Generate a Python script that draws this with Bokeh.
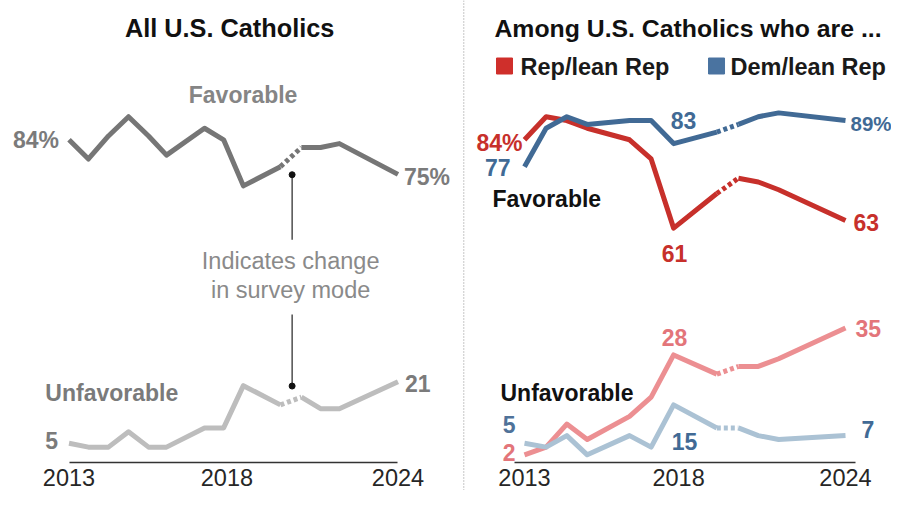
from bokeh.plotting import figure
from bokeh.layouts import row
from bokeh.models import FixedTicker, Span
from bokeh.core.properties import value
from bokeh.embed import file_html
from bokeh.resources import INLINE

# ---------------- data ----------------
LEFT_YEARS = [2013.00, 2013.65, 2014.32, 2014.99, 2015.66, 2016.26, 2017.53,
              2018.17, 2018.83, 2020.07, 2020.77, 2021.41, 2022.04, 2024.00]
ALL_FAV = [84, 79, 85, 90, 85, 80, 87, 84, 72, 77, 82, 82, 83, 75]
ALL_UNFAV = [5, 4, 4, 8, 4, 4, 9, 9, 20, 15, 17, 14, 14, 21]

RIGHT_YEARS = [2013.00, 2013.74, 2014.45, 2015.15, 2016.60, 2017.34, 2018.11,
               2019.59, 2020.33, 2021.01, 2021.71, 2024.00]
REP_FAV = [84, 90, 89, 87, 84, 79, 61, 70, 74, 73, 71, 63]
DEM_FAV = [77, 87, 90, 88, 89, 89, 83, 86, 88, 90, 91, 89]
REP_UNFAV = [2, 4, 10, 6, 12, 17, 28, 23, 25, 25, 27, 35]
DEM_UNFAV = [5, 4, 7, 2, 7, 4, 15, 9, 9, 7, 6, 7]

LEFT_MODE_CHANGE = 9    # last phone-survey index (left panel)
RIGHT_MODE_CHANGE = 7   # last phone-survey index (right panel)
MODE_CHANGE_YEAR = 2020.46

TICK_YEARS = [2013, 2018.28, 2024]
TICK_LABELS = ["2013", "2018", "2024"]

LEFT_TITLE = "All U.S. Catholics"
RIGHT_TITLE = "Among U.S. Catholics who are ..."
LEGEND_LABELS = ["Rep/lean Rep", "Dem/lean Rep"]

# ---------------- styles ----------------
FONT = value("Liberation Sans")
GRAY_DARK = "#767676"
GRAY_LIGHT = "#bdbdbd"
GRAY_TEXT = "#7b7b7b"
RED = "#c7302b"
BLUE = "#416a95"
PINK = "#ec8f92"
PINK_TEXT = "#e3757a"
LIGHTBLUE = "#abc2d4"
LW = 5
DASH = "4 3"
Y_RANGE = (-7.288, 120.25)
TEXT_FIX = 0.33   # em, baseline correction for text glyphs


def make_fig(width, xr, bounds):
    p = figure(width=width, height=490, x_range=xr, y_range=Y_RANGE,
               output_backend="svg", toolbar_location=None,
               y_axis_location=None, min_border=0)
    p.outline_line_color = None
    p.xgrid.visible = False
    p.ygrid.visible = False
    ax = p.xaxis[0]
    ax.fixed_location = 0
    ax.bounds = bounds
    ax.ticker = FixedTicker(ticks=TICK_YEARS)
    ax.major_label_overrides = {t: l for t, l in zip(TICK_YEARS, TICK_LABELS)}
    ax.major_tick_line_color = None
    ax.minor_tick_line_color = None
    ax.major_label_standoff = 1
    ax.axis_line_color = "#333333"
    ax.axis_line_width = 1.4
    ax.major_label_text_font = "Liberation Sans"
    ax.major_label_text_font_size = "23.5px"
    ax.major_label_text_color = "#262626"
    return p


def series(p, xs, ys, k, color):
    p.line(xs[:k + 1], ys[:k + 1], line_color=color, line_width=LW, line_join="round")
    p.line(xs[k:k + 2], ys[k:k + 2], line_color=color, line_width=LW, line_dash=DASH)
    p.line(xs[k + 1:], ys[k + 1:], line_color=color, line_width=LW, line_join="round")


def label(p, x, y, txt, color, align, dx, dy, size=23, style="bold"):
    p.text(x=[x], y=[y], text=[txt], text_font=FONT, text_font_size=f"{size}px",
           text_font_style=style, text_color=color, text_align=align,
           text_baseline="alphabetic", x_offset=dx, y_offset=dy - TEXT_FIX * size)


# ---------------- left panel ----------------
left = make_fig(462, (2010.7097, 2026.1566), (LEFT_YEARS[0], LEFT_YEARS[-1]))
series(left, LEFT_YEARS, ALL_UNFAV, LEFT_MODE_CHANGE, GRAY_LIGHT)
series(left, LEFT_YEARS, ALL_FAV, LEFT_MODE_CHANGE, GRAY_DARK)

# survey-mode annotation
left.segment(x0=[MODE_CHANGE_YEAR, MODE_CHANGE_YEAR], y0=[74.9, 38.5],
             x1=[MODE_CHANGE_YEAR, MODE_CHANGE_YEAR], y1=[58.0, 19.9],
             line_color="#222222", line_width=1.2)
left.scatter(x=[MODE_CHANGE_YEAR, MODE_CHANGE_YEAR], y=[74.9, 19.9], size=6,
             color="#111111")
label(left, 2020.41, 50.4, "Indicates change", "#8a8a8a", "center", 0, 0,
      size=23.5, style="normal")
label(left, 2020.41, 42.9, "in survey mode", "#8a8a8a", "center", 0, 0,
      size=23.5, style="normal")

label(left, 2018.37, 110.9, LEFT_TITLE, "#111111", "center", 0, 0, size=25.3)
label(left, 2018.82, 93.7, "Favorable", "#858585", "center", 0, 0)
label(left, 2012.21, 16.1, "Unfavorable", "#7a7a7a", "left", 0, 0)

label(left, LEFT_YEARS[0], ALL_FAV[0], f"{ALL_FAV[0]}%", GRAY_TEXT, "right", -10, 8)
label(left, LEFT_YEARS[-1], ALL_FAV[-1], f"{ALL_FAV[-1]}%", GRAY_TEXT, "left", 6, 10)
label(left, LEFT_YEARS[0], ALL_UNFAV[0], f"{ALL_UNFAV[0]}", GRAY_TEXT, "right", -11, 5)
label(left, LEFT_YEARS[-1], ALL_UNFAV[-1], f"{ALL_UNFAV[-1]}", GRAY_TEXT, "left", 7, 9)

# ---------------- right panel ----------------
right = make_fig(429, (2010.8754, 2025.5763), (2012.66, 2024.34))
right.add_layout(Span(location=2010.917, dimension="height", line_color="#a8a8a8",
                      line_width=1.3, line_dash="1 2"))
series(right, RIGHT_YEARS, REP_UNFAV, RIGHT_MODE_CHANGE, PINK)
series(right, RIGHT_YEARS, DEM_UNFAV, RIGHT_MODE_CHANGE, LIGHTBLUE)
series(right, RIGHT_YEARS, REP_FAV, RIGHT_MODE_CHANGE, RED)
series(right, RIGHT_YEARS, DEM_FAV, RIGHT_MODE_CHANGE, BLUE)

label(right, 2011.97, 110.9, RIGHT_TITLE, "#111111", "left", 0, 0, size=24.8)
right.scatter(x=[2012.315, 2019.58], y=[103.2, 103.2], marker="square", size=16,
              color=["#cf2f2b", "#4a73a0"])
label(right, 2012.863, 100.9, LEGEND_LABELS[0], "#1a1a1a", "left", 0, 0, size=23.5)
label(right, 2020.06, 100.9, LEGEND_LABELS[1], "#1a1a1a", "left", 0, 0, size=23.5)
label(right, 2011.903, 66.5, "Favorable", "#111111", "left", 0, 0)
label(right, 2012.178, 16.0, "Unfavorable", "#111111", "left", 0, 0)

i_min = REP_FAV.index(min(REP_FAV))
label(right, RIGHT_YEARS[0], REP_FAV[0], f"{REP_FAV[0]}%", RED, "right", -2, 11)
label(right, RIGHT_YEARS[0], DEM_FAV[0], f"{DEM_FAV[0]}", BLUE, "right", -14, 8)
label(right, RIGHT_YEARS[i_min], DEM_FAV[i_min], f"{DEM_FAV[i_min]}", BLUE, "center", 10, -16)
label(right, RIGHT_YEARS[-1], DEM_FAV[-1], f"{DEM_FAV[-1]}%", BLUE, "left", 5, 10, size=20.5)
label(right, RIGHT_YEARS[-1], REP_FAV[-1], f"{REP_FAV[-1]}", RED, "left", 8, 10)
label(right, RIGHT_YEARS[i_min], REP_FAV[i_min], f"{REP_FAV[i_min]}", RED, "center", 1, 33)
label(right, RIGHT_YEARS[i_min], REP_UNFAV[i_min], f"{REP_UNFAV[i_min]}", PINK_TEXT, "center", 1, -10)
label(right, RIGHT_YEARS[-1], REP_UNFAV[-1], f"{REP_UNFAV[-1]}", PINK_TEXT, "left", 10, 8)
label(right, RIGHT_YEARS[0], DEM_UNFAV[0], f"{DEM_UNFAV[0]}", "#4f7299", "right", -9, -11)
label(right, RIGHT_YEARS[0], REP_UNFAV[0], f"{REP_UNFAV[0]}", PINK_TEXT, "right", -9, 5)
label(right, RIGHT_YEARS[i_min], DEM_UNFAV[i_min], f"{DEM_UNFAV[i_min]}", BLUE, "center", 11, 44)
label(right, RIGHT_YEARS[-1], DEM_UNFAV[-1], f"{DEM_UNFAV[-1]}", BLUE, "left", 16, 1)

layout = row(left, right)
open("out.html", "w").write(file_html(layout, INLINE))
